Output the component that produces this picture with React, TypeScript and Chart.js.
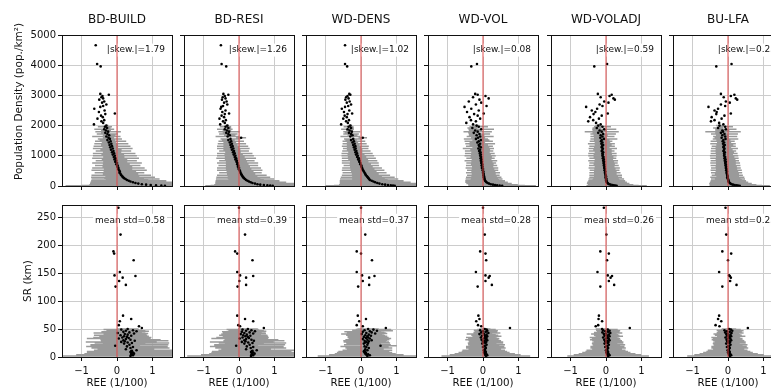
import React, { useEffect, useRef } from 'react';
import { Chart, registerables } from 'chart.js';

Chart.register(...registerables);
Chart.defaults.font.family = "'DejaVu Sans', sans-serif";
Chart.defaults.color = '#111';

// ---------- labels ----------
const PANEL_TITLES = ['BD-BUILD', 'BD-RESI', 'WD-DENS', 'WD-VOL', 'WD-VOLADJ', 'BU-LFA'];
const SKEW_LABELS = ['|skew.|=1.79', '|skew.|=1.26', '|skew.|=1.02', '|skew.|=0.08', '|skew.|=0.59', '|skew.|=0.25'];
const STD_LABELS = ['mean std=0.58', 'mean std=0.39', 'mean std=0.37', 'mean std=0.28', 'mean std=0.26', 'mean std=0.25'];
const X_TITLE = 'REE (1/100)';
const Y_TITLE_TOP = 'Population Density (pop./km²)';
const Y_TITLE_BOTTOM = 'SR (km)';
const X_TICKS = [-1, 0, 1];
const DENSITY_TICKS = [0, 1000, 2000, 3000, 4000, 5000];
const SR_TICKS = [0, 50, 100, 150, 200, 250];
const X_MIN = -1.55;
const X_MAX = 1.55;
const DENSITY_MAX = 5000;
const SR_MAX = 272;

// ---------- top row: population density (shared y) ----------
const DENSITY = [
  4660, 4040, 3960, 3050, 3020, 2980, 2940, 2900, 2860, 2800,
  2760, 2700, 2650, 2620, 2560, 2500, 2450, 2400, 2380, 2330,
  2280, 2230, 2180, 2140, 2090, 2040, 2000, 1960, 1920, 1880,
  1840, 1800, 1760, 1720, 1680, 1640, 1600, 1560, 1520, 1480,
  1440, 1400, 1360, 1320, 1280, 1240, 1200, 1160, 1120, 1080,
  1040, 1000, 960, 920, 880, 840, 800, 760, 720, 680,
  640, 600, 560, 520, 480, 440, 400, 360, 320, 290,
  260, 230, 200, 175, 150, 125, 100, 80, 60, 45,
  30, 20, 12, 6,
];

const BD_BUILD_X = [
  -0.60, -0.56, -0.46, -0.47, -0.23, -0.41, -0.44, -0.39, -0.50, -0.36,
  -0.42, -0.30, -0.39, -0.47, -0.64, -0.35, -0.51, -0.06, -0.33, -0.45,
  -0.40, -0.55, -0.36, -0.44, -0.39, -0.65, -0.30, -0.34, -0.28, -0.36,
  -0.31, -0.25, -0.33, -0.27, -0.22, -0.30, -0.24, -0.20, -0.27, -0.18,
  -0.23, -0.16, -0.21, -0.14, -0.19, -0.12, -0.17, -0.10, -0.14, -0.08,
  -0.12, -0.06, -0.09, -0.04, -0.07, -0.02, -0.05, 0.00, -0.02, 0.02,
  0.01, 0.04, 0.03, 0.06, 0.08, 0.07, 0.10, 0.12, 0.15, 0.17,
  0.20, 0.24, 0.28, 0.33, 0.38, 0.45, 0.52, 0.60, 0.70, 0.82,
  0.95, 1.10, 1.25, 1.35,
];
const BD_BUILD_ERR = [
  0, 0, 0, 0, 0, 0, 0, 0, 0, 0,
  0, 0, 0, 0, 0, 0, 0, 0, 0, 0,
  0, 0, 0, 0, 0, 0, 0.06, 0.20, 0.10, 0.28,
  0.14, 0.36, 0.12, 0.30, 0.18, 0.40, 0.16, 0.34, 0.22, 0.44,
  0.20, 0.48, 0.24, 0.52, 0.22, 0.56, 0.30, 0.50, 0.26, 0.60,
  0.32, 0.62, 0.30, 0.66, 0.36, 0.58, 0.34, 0.70, 0.38, 0.64,
  0.42, 0.74, 0.40, 0.78, 0.46, 0.70, 0.50, 0.84, 0.48, 0.90,
  0.56, 0.96, 0.60, 1.06, 0.66, 1.20, 0.74, 1.36, 0.90, 1.60,
  1.20, 2.10, 1.70, 2.80,
];

const BD_RESI_X = [
  -0.51, -0.49, -0.36, -0.44, -0.30, -0.40, -0.46, -0.38, -0.48, -0.35,
  -0.42, -0.33, -0.45, -0.50, -0.52, -0.38, -0.47, -0.28, -0.40, -0.49,
  -0.42, -0.55, -0.37, -0.45, -0.40, -0.53, -0.33, -0.38, -0.30, -0.40,
  -0.34, -0.28, -0.36, -0.30, -0.26, -0.32, 0.06, -0.24, -0.30, -0.22,
  -0.26, -0.20, -0.24, -0.18, -0.22, -0.16, -0.20, -0.14, -0.17, -0.12,
  -0.15, -0.10, -0.12, -0.08, -0.10, -0.06, -0.07, -0.04, -0.05, -0.02,
  -0.03, 0.00, -0.01, 0.02, 0.03, 0.04, 0.06, 0.08, 0.10, 0.12,
  0.14, 0.17, 0.20, 0.24, 0.28, 0.33, 0.38, 0.45, 0.52, 0.60,
  0.70, 0.80, 0.88, 0.95,
];
const BD_RESI_ERR = [
  0, 0, 0, 0, 0, 0, 0, 0, 0, 0,
  0, 0, 0, 0, 0, 0, 0, 0, 0, 0,
  0, 0, 0, 0, 0, 0, 0.05, 0.16, 0.08, 0.22,
  0.12, 0.30, 0.10, 0.26, 0.16, 0.34, 0.14, 0.28, 0.18, 0.36,
  0.18, 0.40, 0.20, 0.44, 0.22, 0.46, 0.24, 0.42, 0.22, 0.50,
  0.26, 0.52, 0.28, 0.56, 0.30, 0.50, 0.30, 0.58, 0.32, 0.56,
  0.34, 0.62, 0.36, 0.64, 0.38, 0.60, 0.40, 0.70, 0.42, 0.76,
  0.46, 0.82, 0.50, 0.90, 0.56, 1.00, 0.62, 1.12, 0.75, 1.30,
  0.95, 1.60, 1.30, 1.90,
];

const WD_DENS_X = [
  -0.45, -0.45, -0.39, -0.33, -0.30, -0.38, -0.42, -0.35, -0.44, -0.32,
  -0.40, -0.28, -0.36, -0.45, -0.54, -0.33, -0.48, -0.25, -0.38, -0.46,
  -0.40, -0.50, -0.34, -0.42, -0.37, -0.56, -0.30, -0.35, -0.28, -0.38,
  -0.32, -0.26, -0.34, -0.28, -0.24, -0.30, 0.05, -0.22, -0.28, -0.20,
  -0.24, -0.18, -0.22, -0.16, -0.20, -0.15, -0.18, -0.13, -0.16, -0.11,
  -0.14, -0.09, -0.11, -0.06, -0.08, -0.04, -0.05, -0.02, -0.02, 0.01,
  0.01, 0.03, 0.04, 0.06, 0.08, 0.10, 0.12, 0.14, 0.17, 0.19,
  0.21, 0.23, 0.25, 0.30, 0.35, 0.40, 0.46, 0.52, 0.60, 0.68,
  0.76, 0.84, 0.90, 0.95,
];
const WD_DENS_ERR = [
  0, 0, 0, 0, 0, 0, 0, 0, 0, 0,
  0, 0, 0, 0, 0, 0, 0, 0, 0, 0,
  0, 0, 0, 0, 0, 0, 0.05, 0.14, 0.08, 0.18,
  0.10, 0.24, 0.12, 0.22, 0.14, 0.28, 0.12, 0.26, 0.16, 0.32,
  0.16, 0.34, 0.18, 0.38, 0.20, 0.36, 0.22, 0.40, 0.20, 0.44,
  0.24, 0.46, 0.26, 0.48, 0.28, 0.50, 0.26, 0.52, 0.30, 0.50,
  0.32, 0.56, 0.34, 0.60, 0.36, 0.62, 0.38, 0.68, 0.42, 0.76,
  0.46, 0.82, 0.50, 0.90, 0.56, 1.00, 0.62, 1.12, 0.75, 1.30,
  0.95, 1.60, 1.30, 1.95,
];

const WD_VOL_X = [
  -0.30, -0.17, -0.33, -0.22, -0.15, 0.07, -0.28, 0.16, -0.10, -0.40,
  -0.05, -0.20, 0.10, -0.52, -0.33, -0.12, -0.45, 0.02, -0.25, -0.15,
  -0.38, -0.08, -0.34, -0.20, -0.47, -0.28, -0.18, -0.12, -0.30, -0.05,
  -0.22, -0.15, -0.26, -0.10, -0.18, -0.08, -0.14, -0.20, -0.06, -0.12,
  -0.16, -0.08, -0.12, -0.10, -0.06, -0.13, -0.08, -0.11, -0.07, -0.09,
  -0.06, -0.08, -0.05, -0.07, -0.04, -0.06, -0.03, -0.05, -0.02, -0.04,
  -0.01, -0.03, 0.00, -0.01, 0.01, 0.00, 0.02, 0.01, 0.03, 0.02,
  0.04, 0.03, 0.05, 0.06, 0.08, 0.10, 0.13, 0.17, 0.22, 0.28,
  0.34, 0.40, 0.47, 0.54,
];
const WD_VOL_ERR = [
  0, 0, 0, 0, 0, 0, 0, 0, 0, 0,
  0, 0, 0, 0, 0, 0, 0, 0, 0, 0,
  0, 0, 0, 0, 0, 0, 0.08, 0.26, 0.14, 0.36,
  0.18, 0.40, 0.16, 0.30, 0.22, 0.38, 0.20, 0.34, 0.24, 0.40,
  0.22, 0.42, 0.26, 0.38, 0.24, 0.44, 0.28, 0.40, 0.26, 0.42,
  0.28, 0.44, 0.30, 0.40, 0.28, 0.46, 0.30, 0.42, 0.32, 0.44,
  0.30, 0.46, 0.32, 0.44, 0.34, 0.48, 0.34, 0.46, 0.36, 0.50,
  0.38, 0.52, 0.40, 0.56, 0.42, 0.60, 0.46, 0.64, 0.50, 0.70,
  0.55, 0.78, 0.65, 0.95,
];

const WD_VOLADJ_X = [
  -0.28, 0.03, -0.33, -0.23, 0.16, 0.10, -0.15, 0.21, 0.25, -0.05,
  0.07, -0.18, -0.10, -0.56, -0.25, -0.40, -0.30, 0.05, -0.35, -0.12,
  -0.45, -0.20, -0.36, -0.50, -0.28, -0.15, -0.22, -0.10, -0.26, -0.05,
  -0.18, -0.12, -0.22, -0.08, -0.15, -0.10, -0.16, -0.06, -0.12, -0.14,
  -0.10, -0.13, -0.08, -0.11, -0.12, -0.09, -0.10, -0.12, -0.08, -0.10,
  -0.09, -0.10, -0.07, -0.09, -0.06, -0.08, -0.05, -0.07, -0.05, -0.06,
  -0.04, -0.05, -0.03, -0.04, -0.02, -0.03, -0.02, -0.01, 0.00, -0.01,
  0.00, 0.01, 0.00, 0.02, 0.01, 0.03, 0.04, 0.06, 0.09, 0.13,
  0.18, 0.22, 0.26, 0.30,
];
const WD_VOLADJ_ERR = [
  0, 0, 0, 0, 0, 0, 0, 0, 0, 0,
  0, 0, 0, 0, 0, 0, 0, 0, 0, 0,
  0, 0, 0, 0, 0, 0, 0.08, 0.24, 0.12, 0.34,
  0.20, 0.48, 0.16, 0.36, 0.20, 0.34, 0.18, 0.38, 0.22, 0.32,
  0.22, 0.38, 0.24, 0.36, 0.22, 0.40, 0.26, 0.36, 0.24, 0.40,
  0.26, 0.40, 0.28, 0.38, 0.26, 0.42, 0.28, 0.40, 0.30, 0.42,
  0.28, 0.44, 0.30, 0.42, 0.32, 0.44, 0.32, 0.46, 0.34, 0.46,
  0.36, 0.50, 0.38, 0.52, 0.40, 0.56, 0.44, 0.60, 0.48, 0.64,
  0.52, 0.70, 0.60, 0.85,
];

const BU_LFA_X = [
  -0.30, 0.10, -0.33, -0.20, 0.18, 0.08, -0.12, 0.22, 0.26, -0.06,
  0.05, -0.20, -0.08, -0.55, -0.28, -0.38, -0.32, 0.08, -0.33, -0.10,
  -0.46, -0.18, -0.38, -0.48, -0.25, -0.13, -0.24, -0.08, -0.28, -0.06,
  -0.16, -0.14, -0.20, -0.10, -0.16, -0.08, -0.18, -0.07, -0.13, -0.15,
  -0.11, -0.14, -0.09, -0.12, -0.13, -0.10, -0.11, -0.13, -0.09, -0.11,
  -0.10, -0.11, -0.08, -0.10, -0.07, -0.09, -0.06, -0.08, -0.06, -0.07,
  -0.05, -0.06, -0.04, -0.05, -0.03, -0.04, -0.03, -0.02, -0.01, -0.02,
  -0.01, 0.00, 0.01, 0.01, 0.02, 0.03, 0.05, 0.07, 0.10, 0.14,
  0.19, 0.24, 0.28, 0.33,
];
const BU_LFA_ERR = [
  0, 0, 0, 0, 0, 0, 0, 0, 0, 0,
  0, 0, 0, 0, 0, 0, 0, 0, 0, 0,
  0, 0, 0, 0, 0, 0, 0.10, 0.22, 0.14, 0.30,
  0.20, 0.50, 0.16, 0.38, 0.18, 0.34, 0.20, 0.36, 0.20, 0.34,
  0.20, 0.36, 0.24, 0.34, 0.22, 0.38, 0.24, 0.36, 0.26, 0.38,
  0.24, 0.40, 0.26, 0.40, 0.28, 0.40, 0.28, 0.42, 0.28, 0.42,
  0.30, 0.42, 0.30, 0.44, 0.32, 0.44, 0.34, 0.44, 0.32, 0.48,
  0.36, 0.48, 0.38, 0.50, 0.40, 0.54, 0.42, 0.60, 0.46, 0.66,
  0.50, 0.72, 0.58, 0.85,
];

// ---------- bottom row: SR in km (shared y) ----------
const SR = [
  267, 219, 189, 185, 173, 152, 146, 142, 145, 136, 129, 126,
  74, 68, 64, 57, 55, 52, 50, 49, 48, 47,
  46, 45, 44, 43, 42, 41, 40, 39, 38, 37,
  36, 35, 34, 33, 32, 31, 30, 29, 28, 27,
  26, 25, 24, 22, 20, 19, 18, 16, 14, 12,
  11, 10, 9, 8, 7, 6, 5, 4, 3, 2,
];

const SR_BD_BUILD_X = [
  0.04, 0.10, -0.10, -0.08, 0.47, 0.08, -0.07, 0.16, 0.52, 0.06, 0.25, -0.04,
  0.17, 0.40, 0.08, 0.05, 0.62, 0.70, 0.30, 0.12, 0.45, 0.25,
  0.55, 0.18, 0.35, 0.02, 0.48, 0.22, 0.30, 0.10, 0.40, 0.20,
  0.28, 0.15, 0.33, 0.05, 0.25, 0.38, 0.18, 0.50, 0.22, 0.12,
  0.30, 0.42, 0.20, 0.35, -0.05, 0.28, 0.45, 0.38, 0.25, 0.55,
  0.42, 0.40, 0.38, 0.45, 0.40, 0.48, 0.42, 0.40, 0.45, 0.38,
];
const SR_BD_BUILD_ERR = [
  0, 0, 0, 0, 0, 0, 0, 0, 0, 0, 0, 0,
  0, 0, 0, 0, 0, 0, 0.30, 0.50, 0.25, 0.55,
  0.35, 0.62, 0.30, 0.68, 0.40, 0.60, 0.45, 0.75, 0.38, 0.70,
  0.50, 0.82, 0.45, 0.90, 0.55, 0.85, 0.60, 0.95, 0.50, 1.00,
  0.65, 1.05, 0.60, 1.10, 0.70, 1.15, 0.75, 1.10, 0.80, 1.20,
  0.85, 1.25, 0.90, 1.30, 1.00, 1.40, 1.10, 1.55, 1.30, 1.90,
];

const SR_BD_RESI_X = [
  0.00, 0.17, -0.11, -0.05, 0.38, -0.05, 0.03, 0.20, 0.40, 0.01, 0.20, -0.04,
  -0.05, 0.17, 0.40, -0.02, 0.03, 0.70, 0.25, 0.10, 0.35, 0.20,
  0.45, 0.08, 0.30, 0.15, 0.40, 0.05, 0.22, 0.12, 0.32, 0.18,
  0.25, 0.10, 0.28, 0.02, 0.20, 0.35, 0.15, 0.42, 0.18, 0.08,
  0.26, 0.38, 0.15, 0.30, -0.08, 0.22, 0.40, 0.33, 0.20, 0.50,
  0.38, 0.36, 0.34, 0.40, 0.36, 0.44, 0.38, 0.35, 0.40, 0.34,
];
const SR_BD_RESI_ERR = [
  0, 0, 0, 0, 0, 0, 0, 0, 0, 0, 0, 0,
  0, 0, 0, 0, 0, 0, 0.28, 0.45, 0.22, 0.50,
  0.32, 0.56, 0.28, 0.60, 0.36, 0.55, 0.40, 0.68, 0.34, 0.64,
  0.45, 0.74, 0.40, 0.80, 0.50, 0.76, 0.54, 0.86, 0.46, 0.90,
  0.58, 0.95, 0.55, 1.00, 0.62, 1.04, 0.66, 1.00, 0.70, 1.08,
  0.75, 1.12, 0.80, 1.18, 0.90, 1.28, 1.00, 1.42, 1.20, 1.80,
];

const SR_WD_DENS_X = [
  0.00, 0.12, -0.12, 0.00, 0.31, -0.12, 0.03, 0.23, 0.38, 0.05, 0.23, -0.08,
  -0.09, 0.14, -0.05, -0.12, 0.05, 0.70, 0.20, 0.35, 0.10, 0.45,
  0.25, 0.05, 0.30, 0.15, 0.40, 0.02, 0.22, 0.12, 0.28, 0.18,
  0.08, 0.20, 0.14, 0.25, 0.05, 0.18, 0.30, 0.10, 0.22, 0.15,
  0.12, 0.20, 0.08, 0.18, 0.55, 0.10, 0.15, 0.22, 0.12, 0.18,
  0.10, 0.08, 0.12, 0.10, 0.14, 0.12, 0.20, 0.15, 0.25, 0.18,
];
const SR_WD_DENS_ERR = [
  0, 0, 0, 0, 0, 0, 0, 0, 0, 0, 0, 0,
  0, 0, 0, 0, 0, 0, 0.30, 0.50, 0.35, 0.45,
  0.32, 0.52, 0.36, 0.55, 0.34, 0.58, 0.38, 0.54, 0.40, 0.56,
  0.38, 0.58, 0.42, 0.60, 0.40, 0.62, 0.44, 0.60, 0.46, 0.64,
  0.44, 0.62, 0.48, 0.66, 0.46, 0.68, 0.50, 0.66, 0.52, 0.70,
  0.54, 0.72, 0.58, 0.78, 0.62, 0.86, 0.70, 1.05, 0.90, 1.40,
];

const SR_WD_VOL_X = [
  0.00, 0.05, -0.08, 0.07, 0.09, -0.20, 0.07, 0.16, 0.19, 0.07, 0.25, -0.15,
  -0.13, -0.10, -0.19, -0.14, -0.05, 0.76, 0.05, 0.10, -0.08, 0.12,
  0.00, 0.08, -0.05, 0.15, 0.02, -0.10, 0.10, 0.05, -0.03, 0.12,
  0.06, -0.06, 0.10, 0.02, 0.08, -0.04, 0.12, 0.05, 0.00, 0.09,
  0.03, 0.07, -0.02, 0.10, 0.04, 0.06, 0.00, 0.08, 0.05, 0.02,
  0.06, 0.04, 0.08, 0.03, 0.07, 0.05, 0.10, 0.06, 0.12, 0.08,
];
const SR_WD_VOL_ERR = [
  0, 0, 0, 0, 0, 0, 0, 0, 0, 0, 0, 0,
  0, 0, 0, 0, 0, 0, 0.16, 0.26, 0.18, 0.30,
  0.20, 0.32, 0.22, 0.34, 0.24, 0.36, 0.26, 0.38, 0.28, 0.40,
  0.28, 0.42, 0.30, 0.44, 0.32, 0.46, 0.34, 0.46, 0.36, 0.48,
  0.38, 0.50, 0.40, 0.52, 0.42, 0.54, 0.44, 0.56, 0.46, 0.60,
  0.48, 0.64, 0.52, 0.72, 0.58, 0.85, 0.66, 1.00, 0.80, 1.25,
];

const SR_WD_VOLADJ_X = [
  -0.06, 0.01, -0.16, 0.08, 0.03, -0.24, 0.05, 0.13, 0.17, 0.08, 0.23, -0.16,
  -0.20, -0.21, -0.11, -0.22, -0.29, 0.67, -0.11, 0.05, -0.08, 0.10,
  -0.02, 0.06, -0.10, 0.12, 0.00, -0.06, 0.08, 0.02, -0.04, 0.10,
  0.04, -0.08, 0.06, 0.00, 0.08, -0.05, 0.10, 0.03, -0.02, 0.07,
  0.01, 0.05, -0.04, 0.08, 0.02, 0.04, -0.02, 0.06, 0.03, 0.00,
  0.04, 0.02, 0.06, 0.01, 0.05, 0.03, 0.08, 0.04, 0.10, 0.06,
];
const SR_WD_VOLADJ_ERR = [
  0, 0, 0, 0, 0, 0, 0, 0, 0, 0, 0, 0,
  0, 0, 0, 0, 0, 0, 0.18, 0.28, 0.20, 0.30,
  0.22, 0.32, 0.24, 0.34, 0.24, 0.36, 0.26, 0.36, 0.28, 0.38,
  0.28, 0.38, 0.30, 0.40, 0.30, 0.40, 0.32, 0.42, 0.32, 0.42,
  0.34, 0.44, 0.36, 0.46, 0.38, 0.48, 0.40, 0.50, 0.42, 0.55,
  0.44, 0.60, 0.48, 0.68, 0.54, 0.80, 0.62, 0.95, 0.75, 1.15,
];

const SR_BU_LFA_X = [
  -0.07, -0.05, -0.16, 0.09, 0.00, -0.25, 0.03, 0.08, 0.05, 0.06, 0.24, -0.16,
  -0.25, -0.28, -0.19, -0.35, -0.24, 0.56, 0.03, 0.08, -0.10, 0.12,
  -0.03, 0.05, -0.08, 0.10, -0.01, -0.05, 0.07, 0.01, -0.03, 0.09,
  0.03, -0.07, 0.05, -0.01, 0.07, -0.04, 0.09, 0.02, -0.02, 0.06,
  0.00, 0.04, -0.05, 0.07, 0.01, 0.03, -0.03, 0.05, 0.02, -0.01,
  0.03, 0.01, 0.05, 0.00, 0.04, 0.02, 0.07, 0.03, 0.09, 0.05,
];
const SR_BU_LFA_ERR = [
  0, 0, 0, 0, 0, 0, 0, 0, 0, 0, 0, 0,
  0, 0, 0, 0, 0, 0, 0.20, 0.28, 0.22, 0.32,
  0.22, 0.34, 0.24, 0.34, 0.26, 0.36, 0.28, 0.38, 0.28, 0.40,
  0.30, 0.40, 0.30, 0.42, 0.32, 0.42, 0.34, 0.44, 0.34, 0.44,
  0.36, 0.46, 0.38, 0.48, 0.40, 0.50, 0.42, 0.52, 0.44, 0.56,
  0.46, 0.62, 0.50, 0.70, 0.56, 0.82, 0.64, 0.98, 0.78, 1.20,
];

const TOP_X = [BD_BUILD_X, BD_RESI_X, WD_DENS_X, WD_VOL_X, WD_VOLADJ_X, BU_LFA_X];
const TOP_ERR = [BD_BUILD_ERR, BD_RESI_ERR, WD_DENS_ERR, WD_VOL_ERR, WD_VOLADJ_ERR, BU_LFA_ERR];
const BOT_X = [SR_BD_BUILD_X, SR_BD_RESI_X, SR_WD_DENS_X, SR_WD_VOL_X, SR_WD_VOLADJ_X, SR_BU_LFA_X];
const BOT_ERR = [SR_BD_BUILD_ERR, SR_BD_RESI_ERR, SR_WD_DENS_ERR, SR_WD_VOL_ERR, SR_WD_VOLADJ_ERR, SR_BU_LFA_ERR];

// ---------- layout ----------
const COL_LEFT = [62, 184, 306, 428, 551, 673];
const PLOT_W = 110;
const ROW_TOP = [35, 205];
const ROW_H = [151, 152];
const INK = '#111';
const GRID = '#cccccc';

const fmt = (v: number | string) => String(v).replace('-', '\u2212');

const annotPlugin = {
  id: 'annot',
  beforeDatasetDraw(chart: any, args: any, opts: any) {
    if (args.index !== 0 || !opts || !opts.text) return;
    const { ctx, chartArea } = chart;
    ctx.save();
    ctx.font = "9px 'DejaVu Sans', sans-serif";
    const w = ctx.measureText(opts.text).width;
    const xr = chartArea.right - 7;
    const yc = chartArea.top + 0.1 * (chartArea.bottom - chartArea.top);
    ctx.fillStyle = '#ffffff';
    ctx.fillRect(xr - w - 2, yc - 6.5, w + 4, 13);
    ctx.fillStyle = INK;
    ctx.textAlign = 'right';
    ctx.textBaseline = 'middle';
    ctx.fillText(opts.text, xr, yc);
    ctx.restore();
  },
};

// rotated y-axis label for the first column (centred slightly above the axes centre, as in the source)
const ylabPlugin = {
  id: 'ylab',
  afterDraw(chart: any, _args: any, opts: any) {
    if (!opts || !opts.text) return;
    const { ctx, chartArea } = chart;
    ctx.save();
    ctx.font = "10.5px 'DejaVu Sans', sans-serif";
    ctx.fillStyle = INK;
    ctx.textAlign = 'center';
    ctx.textBaseline = 'middle';
    ctx.translate(opts.x, (chartArea.top + chartArea.bottom) / 2 + opts.dy);
    ctx.rotate(-Math.PI / 2);
    ctx.fillText(opts.text, 0, 0);
    ctx.restore();
  },
};

type PanelProps = { col: number; row: number; xs: number[]; errs: number[]; ys: number[]; label: string };

function Panel({ col, row, xs, errs, ys, label }: PanelProps) {
  const ref = useRef<HTMLCanvasElement>(null);
  const first = col === 0;
  const bottom = row === 1;
  const yw = first ? 62 : 8;
  const rightW = 8;
  const topH = 10;
  const titleH = row === 0 ? 25 : 0;
  const xh = bottom ? 35 : 10;
  const W = yw + PLOT_W + rightW;
  const H = titleH + topH + ROW_H[row] + xh;
  const left = COL_LEFT[col] - yw;
  const top = ROW_TOP[row] - topH - titleH;

  useEffect(() => {
    if (!ref.current) return;
    const yMax = row === 0 ? DENSITY_MAX : SR_MAX;
    const yTicks = row === 0 ? DENSITY_TICKS : SR_TICKS;
    const points = xs.map((x, i) => ({ x, y: ys[i] }));
    const bars: { x: number; y: number }[] = [];
    xs.forEach((x, i) => {
      const e = errs[i];
      if (e > 0) {
        bars.push({ x: x - e, y: ys[i] }, { x: x + e, y: ys[i] }, { x: NaN, y: NaN });
      }
    });
    const chart = new Chart(ref.current, {
      type: 'scatter',
      data: {
        datasets: [
          {
            data: [{ x: 0, y: 0 }, { x: 0, y: yMax }],
            showLine: true,
            borderColor: 'rgba(225,70,70,0.8)',
            borderWidth: 1.2,
            pointRadius: 0,
          },
          {
            data: points,
            pointRadius: 1.3,
            pointBackgroundColor: '#000',
            pointBorderWidth: 0,
            showLine: false,
          },
          {
            data: bars,
            showLine: true,
            spanGaps: false,
            borderColor: '#9a9a9a',
            borderWidth: 1.5,
            pointRadius: 0,
          },
        ],
      } as any,
      options: {
        responsive: false,
        animation: false,
        events: [],
        layout: { padding: 0 },
        plugins: {
          legend: { display: false },
          tooltip: { enabled: false },
          title: {
            display: row === 0,
            text: PANEL_TITLES[col],
            fullSize: false,
            color: INK,
            font: { size: 12, weight: 'normal', lineHeight: '10px' },
            padding: { top: 15, bottom: 0 },
          },
          annot: { text: label },
          ylab: first
            ? { text: row === 0 ? Y_TITLE_TOP : Y_TITLE_BOTTOM, x: row === 0 ? 19 : 28, dy: row === 0 ? -9 : 0 }
            : { text: '' },
        } as any,
        scales: {
          x: {
            type: 'linear',
            position: 'bottom',
            min: X_MIN,
            max: X_MAX,
            afterBuildTicks: (a: any) => {
              a.ticks = X_TICKS.map((v) => ({ value: v }));
            },
            afterFit: (s: any) => {
              s.height = xh;
            },
            grid: { color: GRID, lineWidth: 1, tickColor: INK, tickLength: 4, tickWidth: 1 },
            border: { display: true, color: INK, width: 1, z: 1 },
            ticks: {
              display: bottom,
              padding: 4,
              color: INK,
              font: { size: 10 },
              maxRotation: 0,
              autoSkip: false,
              callback: (v: any) => fmt(v),
            },
            title: {
              display: bottom,
              text: X_TITLE,
              color: INK,
              font: { size: 10.3 },
              padding: { top: 0, bottom: 2 },
            },
          },
          y: {
            type: 'linear',
            position: 'left',
            min: 0,
            max: yMax,
            afterBuildTicks: (a: any) => {
              a.ticks = yTicks.map((v) => ({ value: v }));
            },
            afterFit: (s: any) => {
              s.width = yw;
            },
            grid: { color: GRID, lineWidth: 1, tickColor: INK, tickLength: 4, tickWidth: 1 },
            border: { display: true, color: INK, width: 1, z: 1 },
            ticks: {
              display: first,
              padding: 2,
              color: INK,
              font: { size: 10 },
              autoSkip: false,
              callback: (v: any) => fmt(v),
            },
            title: { display: false },
          },
          x2: {
            type: 'linear',
            position: 'top',
            display: true,
            grid: { display: false },
            ticks: { display: false },
            border: { display: true, color: INK, width: 1, z: 1 },
            afterFit: (s: any) => {
              s.height = topH;
            },
          },
          y2: {
            type: 'linear',
            position: 'right',
            display: true,
            grid: { display: false },
            ticks: { display: false },
            border: { display: true, color: INK, width: 1, z: 1 },
            afterFit: (s: any) => {
              s.width = rightW;
            },
          },
        } as any,
      },
      plugins: [annotPlugin as any, ylabPlugin as any],
    });
    return () => chart.destroy();
  }, [col, row, xs, errs, ys, label]);

  return (
    <canvas
      ref={ref}
      width={W}
      height={H}
      style={{ position: 'absolute', left, top, width: W, height: H }}
    />
  );
}

export default function App() {
  return (
    <div
      style={{
        position: 'absolute',
        left: 0,
        top: 0,
        width: 771,
        height: 388,
        overflow: 'hidden',
        background: '#fff',
      }}
    >
      {PANEL_TITLES.map((t, i) => (
        <Panel key={'top-' + t} col={i} row={0} xs={TOP_X[i]} errs={TOP_ERR[i]} ys={DENSITY} label={SKEW_LABELS[i]} />
      ))}
      {PANEL_TITLES.map((t, i) => (
        <Panel key={'bot-' + t} col={i} row={1} xs={BOT_X[i]} errs={BOT_ERR[i]} ys={SR} label={STD_LABELS[i]} />
      ))}
    </div>
  );
}
